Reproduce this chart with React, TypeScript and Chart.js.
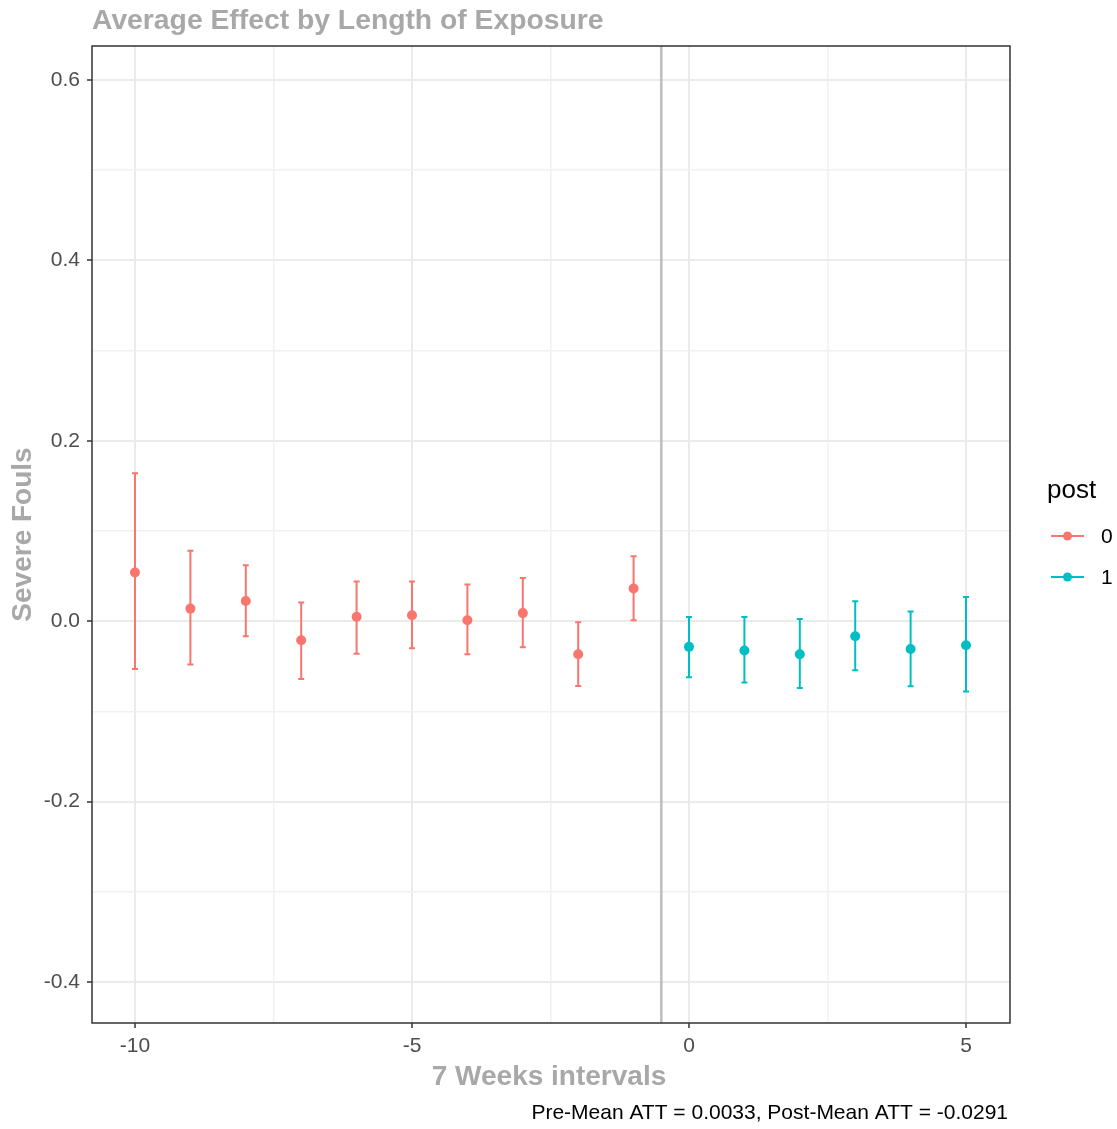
import React, { useEffect, useRef } from "react";
import { Chart, registerables } from "chart.js";

Chart.register(...registerables);

// ---- data ----
const periods = [-10, -9, -8, -7, -6, -5, -4, -3, -2, -1, 0, 1, 2, 3, 4, 5];
const estimates = [0.054, 0.014, 0.0225, -0.021, 0.005, 0.0066, 0.001, 0.009, -0.0366, 0.0362, -0.0284, -0.0325, -0.0366, -0.0166, -0.0307, -0.0266];
const lowerCI = [-0.053, -0.048, -0.0166, -0.064, -0.036, -0.03, -0.0366, -0.0288, -0.0717, 0.001, -0.062, -0.068, -0.0739, -0.0543, -0.072, -0.078];
const upperCI = [0.164, 0.078, 0.062, 0.0207, 0.044, 0.044, 0.0407, 0.048, -0.001, 0.072, 0.0048, 0.0048, 0.0026, 0.0222, 0.0107, 0.027];
const postFlag = [0, 0, 0, 0, 0, 0, 0, 0, 0, 0, 1, 1, 1, 1, 1, 1];
const groups = ["0", "1"];
const xMajorTicks = [-10, -5, 0, 5];
const xMinorTicks = [-7.5, -2.5, 2.5];
const yMajorTicks = [-0.4, -0.2, 0, 0.2, 0.4, 0.6];
const yMinorTicks = [-0.3, -0.1, 0.1, 0.3, 0.5];
const treatmentLine = -0.5;
const titleText = "Average Effect by Length of Exposure";
const xTitle = "7 Weeks intervals";
const yTitle = "Severe Fouls";
const legendTitle = "post";
const captionText = "Pre-Mean ATT = 0.0033, Post-Mean ATT = -0.0291";

const COLORS = ["#F8766D", "#00BFC4"];
const FONT = "'Liberation Sans', Arial, sans-serif";
const GREY_TITLE = "#a8a8a8";

const isMajor = (v: number, majors: number[]) => majors.some((m) => Math.abs(m - v) < 1e-9);

export default function App() {
  const ref = useRef<HTMLCanvasElement | null>(null);

  useEffect(() => {
    if (!ref.current) return;

    const datasets = groups.map((g, gi) => ({
      label: g,
      data: periods
        .map((p, i) => ({ x: p, y: estimates[i], post: postFlag[i] }))
        .filter((d) => d.post === gi),
      backgroundColor: COLORS[gi],
      borderColor: COLORS[gi],
      borderWidth: 0,
      pointRadius: 5,
      pointHoverRadius: 5,
      showLine: false,
    }));

    const decor = {
      id: "decor",
      beforeDatasetsDraw(chart: any) {
        const { ctx, chartArea, scales } = chart;
        const xs = scales.x;
        ctx.save();
        ctx.strokeStyle = "#bdbdbd";
        ctx.lineWidth = 2.5;
        const vx = xs.getPixelForValue(treatmentLine);
        ctx.beginPath();
        ctx.moveTo(vx, chartArea.top);
        ctx.lineTo(vx, chartArea.bottom);
        ctx.stroke();
        ctx.restore();
        const ys = scales.y;
        ctx.save();
        ctx.lineWidth = 2;
        periods.forEach((p, i) => {
          ctx.strokeStyle = COLORS[postFlag[i]];
          const px = xs.getPixelForValue(p);
          const y1 = ys.getPixelForValue(lowerCI[i]);
          const y2 = ys.getPixelForValue(upperCI[i]);
          ctx.beginPath();
          ctx.moveTo(px, y1);
          ctx.lineTo(px, y2);
          ctx.moveTo(px - 3, y1);
          ctx.lineTo(px + 3, y1);
          ctx.moveTo(px - 3, y2);
          ctx.lineTo(px + 3, y2);
          ctx.stroke();
        });
        ctx.restore();
      },
      afterDraw(chart: any) {
        const { ctx, chartArea } = chart;
        ctx.save();
        ctx.strokeStyle = "#333333";
        ctx.lineWidth = 1.5;
        ctx.strokeRect(chartArea.left, chartArea.top, chartArea.right - chartArea.left, chartArea.bottom - chartArea.top);
        ctx.fillStyle = GREY_TITLE;
        ctx.font = `bold 28.3px ${FONT}`;
        ctx.textAlign = "left";
        ctx.textBaseline = "middle";
        ctx.fillText(titleText, chartArea.left, 21);
        ctx.font = `bold 28px ${FONT}`;
        ctx.textAlign = "center";
        ctx.fillText(xTitle, 549, 1077);
        ctx.save();
        ctx.translate(23, (chartArea.top + chartArea.bottom) / 2);
        ctx.rotate(-Math.PI / 2);
        ctx.fillText(yTitle, 0, 0);
        ctx.restore();
        ctx.fillStyle = "#000000";
        ctx.font = `21px ${FONT}`;
        ctx.textAlign = "right";
        ctx.fillText(captionText, chartArea.right - 2, 1113);
        ctx.fillStyle = "#000000";
        ctx.font = `26px ${FONT}`;
        ctx.textAlign = "left";
        ctx.fillText(legendTitle, 1047, 491);
        const rows = [536, 577];
        groups.forEach((g, gi) => {
          const y = rows[gi];
          ctx.strokeStyle = COLORS[gi];
          ctx.lineWidth = 2;
          ctx.beginPath();
          ctx.moveTo(1051, y);
          ctx.lineTo(1084, y);
          ctx.stroke();
          ctx.fillStyle = COLORS[gi];
          ctx.beginPath();
          ctx.arc(1067.5, y, 4.5, 0, Math.PI * 2);
          ctx.fill();
          ctx.fillStyle = "#000000";
          ctx.font = `21px ${FONT}`;
          ctx.fillText(g, 1101, y + 1);
        });
        ctx.restore();
      },
    };

    const gridColor = (majors: number[]) => (c: any) =>
      isMajor(c.tick?.value, majors) ? "#ebebeb" : "#f1f1f1";
    const gridWidth = (majors: number[]) => (c: any) => (isMajor(c.tick?.value, majors) ? 2 : 1.6);
    const tickColor = (majors: number[]) => (c: any) =>
      isMajor(c.tick?.value, majors) ? "#333333" : "rgba(0,0,0,0)";

    const chart = new Chart(ref.current, {
      type: "scatter",
      data: { datasets: datasets as any },
      plugins: [decor],
      options: {
        animation: false,
        responsive: false,
        maintainAspectRatio: false,
        layout: { padding: { top: 46, right: 107, left: 0, bottom: 0 } },
        plugins: {
          legend: { display: false },
          title: { display: false },
          tooltip: { enabled: false },
        },
        scales: {
          x: {
            type: "linear",
            min: -10.776,
            max: 5.794,
            afterBuildTicks: (s: any) => {
              s.ticks = [...xMajorTicks, ...xMinorTicks].sort((a, b) => a - b).map((v) => ({ value: v }));
            },
            afterFit: (s: any) => {
              s.height = 106;
            },
            grid: {
              color: gridColor(xMajorTicks),
              lineWidth: gridWidth(xMajorTicks),
              drawTicks: true,
              tickLength: 5,
              tickColor: tickColor(xMajorTicks),
              tickWidth: 1.5,
            },
            border: { display: false },
            ticks: {
              autoSkip: false,
              maxRotation: 0,
              padding: 6,
              color: "#4d4d4d",
              font: { family: FONT, size: 21 },
              callback: (v: any) => (isMajor(Number(v), xMajorTicks) ? String(v) : ""),
            },
          },
          y: {
            type: "linear",
            min: -0.4454,
            max: 0.6377,
            afterBuildTicks: (s: any) => {
              s.ticks = [...yMajorTicks, ...yMinorTicks].sort((a, b) => a - b).map((v) => ({ value: v }));
            },
            afterFit: (s: any) => {
              s.width = 92;
            },
            grid: {
              color: gridColor(yMajorTicks),
              lineWidth: gridWidth(yMajorTicks),
              drawTicks: true,
              tickLength: 5,
              tickColor: tickColor(yMajorTicks),
              tickWidth: 1.5,
            },
            border: { display: false },
            ticks: {
              autoSkip: false,
              padding: 7,
              color: "#4d4d4d",
              font: { family: FONT, size: 21 },
              callback: (v: any) => (isMajor(Number(v), yMajorTicks) ? Number(v).toFixed(1) : ""),
            },
          },
        },
      },
    });

    return () => chart.destroy();
  }, []);

  return (
    <div style={{ position: "absolute", left: 0, top: 0, width: 1117, height: 1129, background: "#fff" }}>
      <canvas ref={ref} width={1117} height={1129} style={{ display: "block", width: 1117, height: 1129 }} />
    </div>
  );
}
